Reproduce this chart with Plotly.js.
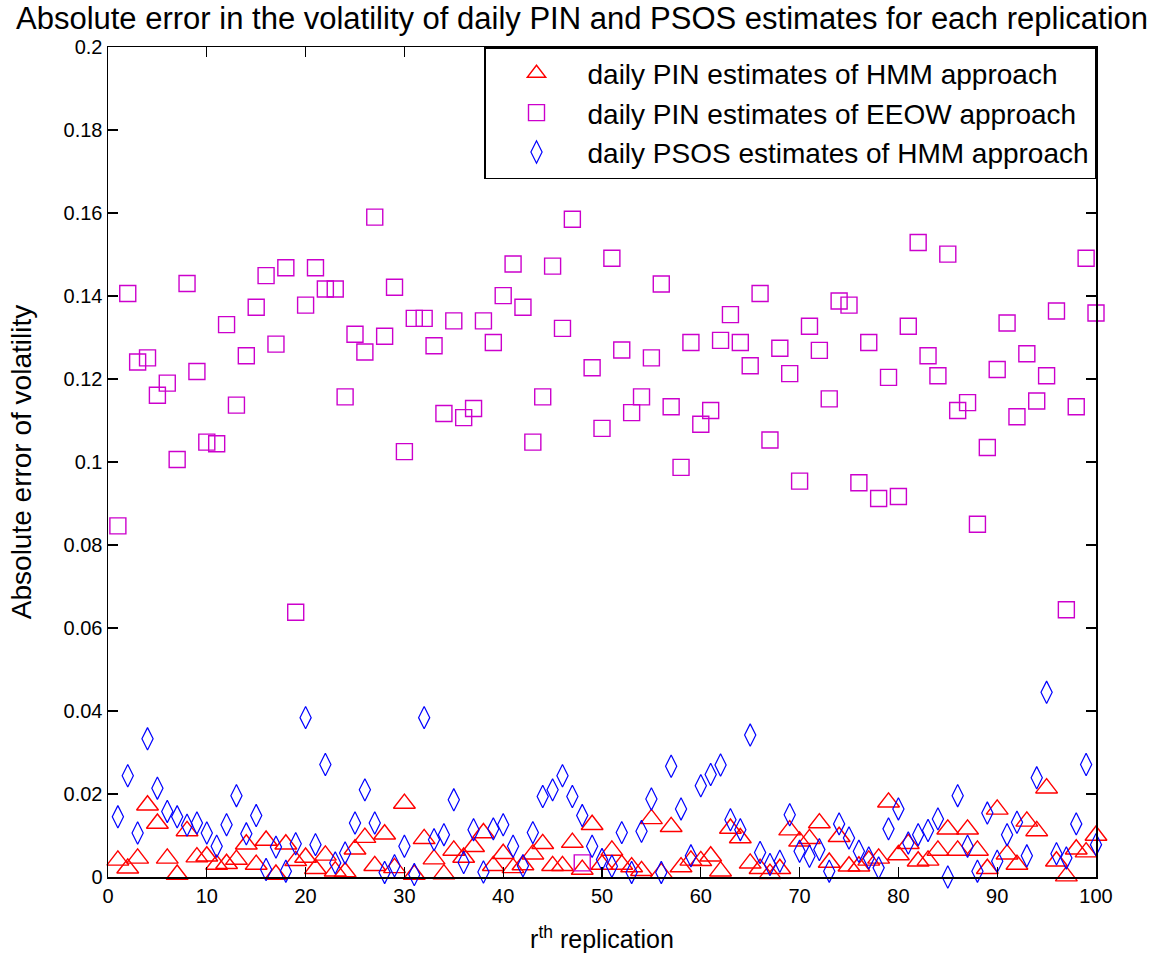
<!DOCTYPE html>
<html>
<head>
<meta charset="utf-8">
<script src="https://cdn.plot.ly/plotly-3.0.1.min.js"></script>
<style>html,body{margin:0;padding:0;background:#fff;}#chart{width:1164px;height:963px;}</style>
</head>
<body>
<div id="chart"></div>
<script>
// replication index r = 1..100
var replications = [];
for (var i = 1; i <= 100; i++) replications.push(i);

var pinHMM = [
0.0040,0.0021,0.0045,0.0173,0.0129,0.0045,0.0006,0.0111,0.0048,0.0050,
0.0030,0.0032,0.0042,0.0079,0.0030,0.0088,0.0006,0.0079,0.0039,0.0047,
0.0020,0.0052,0.0014,0.0012,0.0067,0.0095,0.0027,0.0103,0.0022,0.0177,
0.0006,0.0092,0.0043,0.0007,0.0064,0.0047,0.0073,0.0106,0.0027,0.0056,
0.0022,0.0029,0.0055,0.0080,0.0027,0.0027,0.0083,0.0018,0.0126,0.0030,
0.0064,0.0030,0.0024,0.0015,0.0140,0.0010,0.0121,0.0024,0.0040,0.0039,
0.0050,0.0014,0.0117,0.0094,0.0033,0.0020,0.0008,0.0020,0.0113,0.0086,
0.0092,0.0130,0.0035,0.0097,0.0026,0.0026,0.0040,0.0045,0.0180,0.0053,
0.0080,0.0038,0.0040,0.0064,0.0115,0.0064,0.0115,0.0064,0.0020,0.0163,
0.0055,0.0030,0.0134,0.0111,0.0214,0.0038,0.0002,0.0067,0.0060,0.0100];

var pinEEOW = [
0.0846,0.1406,0.1241,0.1251,0.1161,0.1190,0.1006,0.1430,0.1218,0.1048,
0.1044,0.1331,0.1137,0.1256,0.1373,0.1449,0.1284,0.1468,0.0638,0.1378,
0.1468,0.1417,0.1417,0.1157,0.1308,0.1265,0.1590,0.1303,0.1421,0.1025,
0.1346,0.1346,0.1280,0.1117,0.1340,0.1107,0.1129,0.1340,0.1288,0.1401,
0.1477,0.1373,0.1048,0.1157,0.1472,0.1322,0.1585,0.0034,0.1227,0.1081,
0.1491,0.1270,0.1119,0.1157,0.1251,0.1429,0.1133,0.0987,0.1288,0.1091,
0.1124,0.1293,0.1355,0.1288,0.1232,0.1406,0.1053,0.1274,0.1213,0.0954,
0.1327,0.1269,0.1152,0.1388,0.1378,0.0950,0.1288,0.0912,0.1204,0.0917,
0.1327,0.1529,0.1256,0.1208,0.1501,0.1124,0.1143,0.0850,0.1035,0.1223,
0.1335,0.1109,0.1261,0.1147,0.1208,0.1364,0.0644,0.1133,0.1491,0.1359];

var psosHMM = [
0.0145,0.0244,0.0106,0.0333,0.0214,0.0158,0.0145,0.0125,0.0130,0.0106,
0.0074,0.0126,0.0196,0.0104,0.0148,0.0018,0.0072,0.0014,0.0080,0.0384,
0.0078,0.0271,0.0034,0.0058,0.0130,0.0210,0.0130,0.0011,0.0027,0.0074,
0.0006,0.0384,0.0090,0.0102,0.0186,0.0035,0.0114,0.0012,0.0116,0.0126,
0.0074,0.0027,0.0107,0.0194,0.0210,0.0244,0.0194,0.0148,0.0074,0.0042,
0.0026,0.0107,0.0011,0.0110,0.0188,0.0011,0.0267,0.0164,0.0051,0.0220,
0.0247,0.0270,0.0138,0.0114,0.0342,0.0059,0.0030,0.0038,0.0150,0.0062,
0.0050,0.0066,0.0014,0.0128,0.0094,0.0062,0.0046,0.0022,0.0116,0.0164,
0.0082,0.0102,0.0112,0.0140,0.0000,0.0196,0.0074,0.0014,0.0154,0.0038,
0.0102,0.0132,0.0051,0.0239,0.0445,0.0056,0.0046,0.0128,0.0271,0.0078];

var seriesNames = [
  'daily PIN estimates of HMM approach',
  'daily PIN estimates of EEOW approach',
  'daily PSOS estimates of HMM approach'
];
var titleText = 'Absolute error in the volatility of daily PIN and PSOS estimates for each replication';
var xTitle = 'r<sup>th</sup> replication';
var yTitle = 'Absolute error of volatility';

var FONT = 'Arial, "Liberation Sans", sans-serif';

var traces = [
  {x: replications, y: pinHMM, name: seriesNames[0], legendgroup: 'a', type: 'scatter', mode: 'markers', cliponaxis: false,
   marker: {symbol: 'triangle-up-open', size: 19, color: '#ff0000', line: {width: 1.4, color: '#ff0000'}}},
  {x: replications, y: pinEEOW, name: seriesNames[1], legendgroup: 'b', type: 'scatter', mode: 'markers', cliponaxis: false,
   marker: {symbol: 'square-open', size: 16, color: '#cc00cc', line: {width: 1.4, color: '#cc00cc'}}},
  {x: replications, y: psosHMM, name: seriesNames[2], legendgroup: 'c', type: 'scatter', mode: 'markers', cliponaxis: false,
   marker: {symbol: 'diamond-tall-open', size: 16, color: '#0000ff', line: {width: 1.2, color: '#0000ff'}}}
];

var axisCommon = {
  showgrid: false, zeroline: false, showline: true, linecolor: '#000', linewidth: 1.5, mirror: 'ticks',
  ticks: 'inside', ticklen: 10, tickwidth: 1.3, tickcolor: '#000',
  tickfont: {family: FONT, size: 20, color: '#000'}
};

var layout = {
  width: 1164, height: 963,
  paper_bgcolor: '#fff', plot_bgcolor: '#fff',
  margin: {l: 108, r: 68, t: 47, b: 86},
  title: {text: titleText, font: {family: FONT, size: 31, color: '#000'}, x: 0.5, xref: 'container', xanchor: 'center', y: 0.981, yref: 'container', yanchor: 'middle'},
  xaxis: Object.assign({}, axisCommon, {range: [0, 100], tick0: 0, dtick: 10,
    title: {text: xTitle, font: {family: FONT, size: 25, color: '#000'}, standoff: 25}}),
  yaxis: Object.assign({}, axisCommon, {range: [0, 0.2], tick0: 0, dtick: 0.02,
    title: {text: yTitle, font: {family: FONT, size: 28, color: '#000'}, standoff: 24}}),
  showlegend: true,
  legend: {x: 1, xanchor: 'right', y: 1, yanchor: 'top', bgcolor: '#fff', bordercolor: '#000', borderwidth: 1.5,
    font: {family: FONT, size: 28, color: '#000'}, traceorder: 'grouped', tracegroupgap: 0, itemwidth: 92}
};

Plotly.newPlot('chart', traces, layout, {displayModeBar: false, staticPlot: true});
</script>
</body>
</html>
